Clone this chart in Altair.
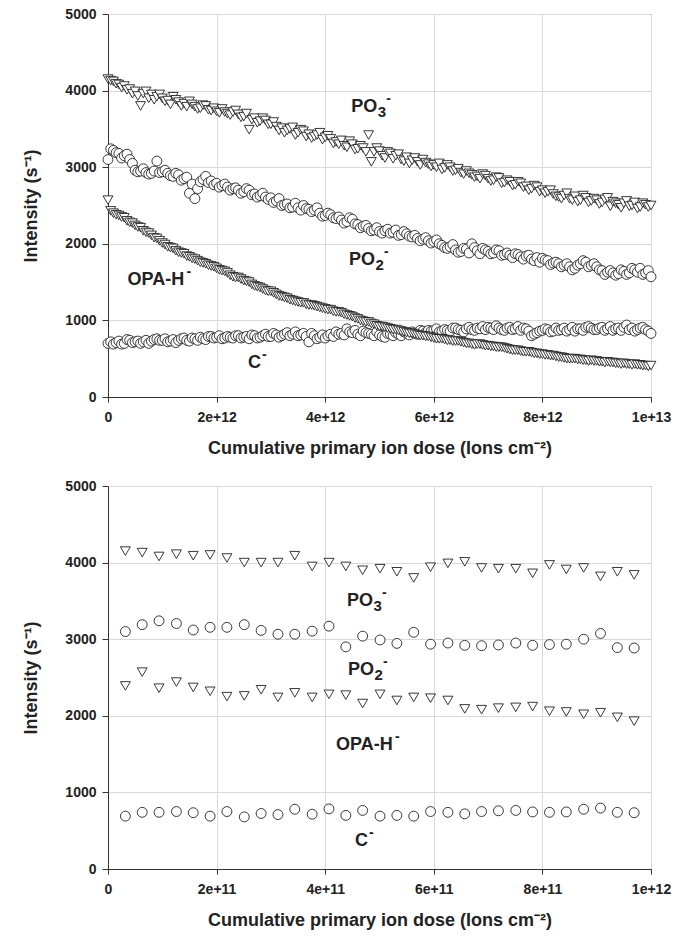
import altair as alt
import pandas as pd

# ---------------- top panel (dose in units of 1e11 ions/cm2) ----------------
dose_top_e11 = [
    0, 1, 2, 3, 4, 5, 6, 7, 8, 9, 10, 11, 12, 13, 14, 15, 16, 17, 18, 19,
    20, 21, 22, 23, 24, 25, 26, 27, 28, 29, 30, 31, 32, 33, 34, 35, 36, 37, 38, 39,
    40, 41, 42, 43, 44, 45, 46, 47, 48, 49, 50, 51, 52, 53, 54, 55, 56, 57, 58, 59,
    60, 61, 62, 63, 64, 65, 66, 67, 68, 69, 70, 71, 72, 73, 74, 75, 76, 77, 78, 79,
    80, 81, 82, 83, 84, 85, 86, 87, 88, 89, 90, 91, 92, 93, 94, 95, 96, 97, 98, 99, 100,
]
po3_top = [
    4150, 4120, 4080, 4060, 4020, 3990, 3800, 3990, 3950, 3920,
    3900, 3870, 3920, 3850, 3830, 3860, 3790, 3770, 3800, 3740,
    3730, 3760, 3700, 3720, 3690, 3660, 3490, 3640, 3600, 3610,
    3560, 3530, 3510, 3480, 3520, 3450, 3470, 3430, 3400, 3450,
    3390, 3370, 3330, 3350, 3260, 3300, 3240, 3250, 3420, 3200,
    3210, 3120, 3180, 3150, 3100, 3130, 3090, 3070, 3100, 3040,
    3030, 3050, 2990, 3000, 2960, 2930, 2950, 2900, 2880, 2910,
    2850, 2830, 2860, 2800, 2810, 2770, 2790, 2750, 2720, 2740,
    2700, 2680, 2650, 2610, 2630, 2590, 2620, 2570, 2600, 2560,
    2570, 2540, 2600, 2550, 2510, 2530, 2490, 2540, 2480, 2510, 2500,
]
po2_top = [
    3100, 3220, 3180, 3150, 3100, 2960, 2950, 2930, 2920, 3080,
    2940, 2920, 2880, 2900, 2850, 2660, 2590, 2810, 2880, 2820,
    2790, 2760, 2740, 2720, 2700, 2680, 2700, 2650, 2630, 2610,
    2600, 2560, 2500, 2520, 2480, 2470, 2500, 2450, 2440, 2400,
    2370, 2380, 2330, 2310, 2290, 2320, 2250, 2230, 2200, 2180,
    2160, 2170, 2140, 2180, 2120, 2130, 2090, 2070, 2060, 2040,
    2030, 2000, 1950, 1960, 1920, 1900, 1930, 2000, 1910, 1940,
    1900, 1880, 1910, 1860, 1850, 1870, 1830, 1840, 1800, 1820,
    1810, 1780, 1750, 1740, 1720, 1700, 1680, 1740, 1760, 1720,
    1700, 1650, 1630, 1620, 1610, 1640, 1620, 1660, 1680, 1620, 1570,
]
opa_top = [
    2570, 2400, 2370, 2340, 2280, 2240, 2210, 2150, 2110, 2070,
    2010, 1960, 1940, 1890, 1870, 1830, 1800, 1760, 1740, 1710,
    1680, 1650, 1620, 1570, 1560, 1520, 1500, 1450, 1430, 1390,
    1380, 1340, 1310, 1290, 1260, 1240, 1230, 1200, 1190, 1170,
    1150, 1140, 1110, 1100, 1070, 1050, 1020, 990, 980, 950,
    920, 910, 890, 880, 860, 840, 830, 810, 800, 790,
    770, 760, 750, 740, 730, 720, 700, 690, 690, 680,
    670, 660, 650, 640, 620, 610, 600, 590, 580, 570,
    560, 550, 540, 520, 510, 500, 500, 490, 480, 480,
    470, 460, 460, 450, 440, 440, 430, 430, 420, 410, 410,
]
c_top = [
    700, 690, 730, 700, 740, 720, 700, 740, 730, 760,
    740, 720, 750, 740, 770, 730, 760, 780, 750, 790,
    780, 760, 790, 770, 800, 780, 760, 800, 780, 820,
    790, 810, 800, 840, 820, 800, 830, 720, 800, 780,
    770, 820, 850, 830, 890, 840, 820, 860, 830, 800,
    810, 780, 820, 840, 800, 830, 850, 820, 860, 870,
    870, 850, 880, 860, 900, 870, 890, 880, 900, 920,
    910, 880, 900, 870, 910, 890, 870, 890, 800, 840,
    870, 880, 860, 870, 900, 880, 860, 890, 910, 900,
    880, 910, 890, 870, 900, 910, 880, 860, 900, 880, 830,
]

# in-between acquisitions of the top run
dose_top_b_e11 = [
    0.5, 1.5, 2.5, 3.5, 4.5, 5.5, 6.5, 7.5, 8.5, 9.5, 10.5, 11.5, 12.5, 13.5, 14.5,
    15.5, 16.5, 17.5, 18.5, 19.5, 20.5, 21.5, 22.5, 23.5, 24.5, 25.5, 26.5, 27.5,
    28.5, 29.5, 30.5, 31.5, 32.5, 33.5, 34.5, 35.5, 36.5, 37.5, 38.5, 39.5, 40.5,
    41.5, 42.5, 43.5, 44.5, 45.5, 46.5, 47.5, 48.5, 49.5, 50.5, 51.5, 52.5, 53.5,
    54.5, 55.5, 56.5, 57.5, 58.5, 59.5, 60.5, 61.5, 62.5, 63.5, 64.5, 65.5, 66.5,
    67.5, 68.5, 69.5, 70.5, 71.5, 72.5, 73.5, 74.5, 75.5, 76.5, 77.5, 78.5, 79.5,
    80.5, 81.5, 82.5, 83.5, 84.5, 85.5, 86.5, 87.5, 88.5, 89.5, 90.5, 91.5, 92.5,
    93.5, 94.5, 95.5, 96.5, 97.5, 98.5, 99.5,
]
po3_top_b = [
    4130, 4090, 4040, 4010, 3960, 3930, 3960, 3900, 3880, 3950,
    3860, 3820, 3880, 3800, 3790, 3820, 3760, 3810, 3750, 3770,
    3710, 3720, 3680, 3740, 3650, 3700, 3620, 3580, 3640, 3560,
    3590, 3480, 3450, 3500, 3420, 3490, 3400, 3380, 3420, 3360,
    3410, 3310, 3300, 3280, 3340, 3230, 3280, 3200, 3070, 3250,
    3150, 3200, 3110, 3170, 3080, 3050, 3120, 3030, 3060, 3010,
    3000, 2970, 3030, 2950, 2980, 2910, 2920, 2870, 2850, 2890,
    2820, 2870, 2790, 2830, 2760, 2810, 2740, 2700, 2760, 2680,
    2660, 2700, 2620, 2590, 2660, 2570, 2550, 2630, 2540, 2590,
    2520, 2580, 2490, 2530, 2470, 2560, 2500, 2460, 2530, 2480,
]
po2_top_b = [
    3240, 3190, 3120, 3170, 3050, 2940, 2980, 2910, 2950, 2930,
    2960, 2890, 2920, 2830, 2870, 2780, 2720, 2840, 2800, 2770,
    2740, 2780, 2700, 2730, 2660, 2720, 2640, 2610, 2660, 2580,
    2540, 2590, 2510, 2470, 2530, 2440, 2460, 2420, 2470, 2360,
    2400, 2340, 2350, 2270, 2340, 2260, 2210, 2240, 2170, 2210,
    2140, 2190, 2150, 2110, 2160, 2100, 2110, 2040, 2080, 2010,
    2050, 1980, 1940, 1990, 1890, 1940, 1880, 1950, 1870, 1920,
    1870, 1920, 1850, 1880, 1820, 1860, 1800, 1850, 1780, 1760,
    1790, 1730, 1760, 1700, 1740, 1660, 1720, 1780, 1700, 1740,
    1660, 1600, 1650, 1590, 1660, 1600, 1680, 1630, 1600, 1650,
]
opa_top_b = [
    2430, 2380, 2350, 2300, 2270, 2220, 2170, 2140, 2080, 2040,
    1990, 1950, 1910, 1880, 1840, 1810, 1780, 1750, 1720, 1700,
    1660, 1640, 1590, 1560, 1540, 1510, 1470, 1440, 1410, 1380,
    1360, 1320, 1300, 1270, 1250, 1230, 1210, 1200, 1180, 1160,
    1140, 1120, 1110, 1080, 1060, 1030, 1000, 980, 960, 930,
    920, 900, 880, 870, 850, 830, 820, 800, 790, 780,
    760, 760, 740, 730, 730, 710, 700, 680, 690, 670,
    660, 650, 650, 630, 610, 610, 590, 590, 570, 560,
    550, 540, 530, 520, 500, 500, 490, 480, 470, 470,
    460, 450, 450, 440, 430, 430, 420, 420, 410, 400,
]
c_top_b = [
    720, 710, 690, 750, 710, 730, 720, 700, 750, 740,
    760, 730, 710, 760, 740, 770, 740, 760, 790, 770,
    800, 770, 780, 800, 770, 790, 810, 770, 800, 790,
    830, 780, 820, 800, 850, 810, 790, 830, 760, 810,
    800, 790, 820, 810, 850, 870, 800, 840, 820, 850,
    790, 830, 800, 820, 850, 810, 830, 870, 840, 860,
    890, 860, 870, 900, 880, 850, 910, 870, 890, 880,
    900, 930, 880, 900, 880, 920, 900, 860, 820, 860,
    890, 850, 900, 880, 860, 910, 890, 870, 920, 880,
    900, 870, 920, 890, 870, 940, 900, 880, 910, 860,
]

# ---------------- bottom panel (dose in units of 1e11 ions/cm2) ----------------
dose_bot_e11 = [
    0.32, 0.63, 0.94, 1.26, 1.57, 1.88, 2.19, 2.51, 2.82, 3.13, 3.44,
    3.76, 4.07, 4.38, 4.69, 5.01, 5.32, 5.63, 5.94, 6.26, 6.57,
    6.88, 7.19, 7.51, 7.82, 8.13, 8.44, 8.76, 9.07, 9.38, 9.69,
]
po3_bot = [
    4150, 4130, 4080, 4110, 4090, 4100, 4060, 4000, 4000, 4000, 4090,
    3950, 4000, 3950, 3900, 3920, 3880, 3800, 3940, 3990, 4010,
    3930, 3920, 3920, 3860, 3970, 3910, 3930, 3820, 3880, 3840,
]
po2_bot = [
    3100, 3190, 3240, 3205, 3120, 3155, 3155, 3190, 3115, 3065, 3065,
    3105, 3170, 2900, 3040, 2990, 2945, 3090, 2935, 2950, 2920,
    2915, 2925, 2950, 2920, 2930, 2935, 3000, 3075, 2890, 2885,
]
opa_bot = [
    2390, 2570, 2360, 2440, 2370, 2320, 2250, 2260, 2340, 2240, 2300,
    2240, 2280, 2270, 2160, 2280, 2200, 2240, 2230, 2200, 2090,
    2080, 2100, 2110, 2120, 2060, 2050, 2020, 2040, 1980, 1930,
]
c_bot = [
    690, 740, 740, 750, 735, 690, 750, 680, 725, 710, 780,
    715, 785, 700, 765, 690, 700, 690, 750, 740, 720,
    750, 760, 765, 745, 740, 745, 780, 795, 740, 735,
]

# ---------------- annotations (left edge of label, centre height) ----------------
lab_base = ["PO", "PO", "OPA-H", "C"]
lab_sub = ["3", "2", "", ""]
lab_top_dose_e11 = [44.8, 44.4, 3.6, 25.8]
lab_top_val = [3790, 1790, 1525, 444]
lab_bot_dose_e11 = [4.4, 4.42, 4.2, 4.55]
lab_bot_val = [3494, 2594, 1617, 365]
# horizontal offset of the superscript minus for each label (px)
sup_dx = [35, 35, 59, 14]


def build(parts):
    rows = []
    for name, shape, dose, vals in parts:
        for d, v in zip(dose, vals):
            rows.append({"dose": d * 1e11, "val": v, "series": name, "shape": shape})
    df = pd.DataFrame(rows)
    return df.sort_values(["series", "dose"], kind="stable").reset_index(drop=True)


FONT = "Liberation Sans"
STROKE = "#222222"
TXT = "#222222"


def panel(df, lab_dose, lab_val, xmax, xticks):
    xs = alt.Scale(domain=[0, xmax], nice=False)
    ys = alt.Scale(domain=[0, 5000], nice=False)
    xenc = alt.X(
        "dose:Q", scale=xs,
        axis=alt.Axis(
            values=xticks,
            labelExpr="datum.value == 0 ? '0' : format(datum.value, '.0e')",
            title="Cumulative primary ion dose (Ions cm⁻²)",
        ),
    )
    yenc = alt.Y(
        "val:Q", scale=ys,
        axis=alt.Axis(values=[0, 1000, 2000, 3000, 4000, 5000], format="d",
                      title="Intensity (s⁻¹)"),
    )
    layers = []
    for shp, vshape in (("circle", "circle"), ("triangle", "triangle-down")):
        layers.append(
            alt.Chart(df[df["shape"] == shp]).mark_point(
                shape=vshape, filled=True, fill="white", stroke=STROKE,
                strokeWidth=0.9, size=98, opacity=1,
            ).encode(x=xenc, y=yenc, detail="series:N")
        )
    for i in range(len(lab_base)):
        d = pd.DataFrame({"dose": [lab_dose[i] * 1e11], "val": [lab_val[i]],
                          "base": [lab_base[i]], "sub": [lab_sub[i]], "sup": ["-"]})
        enc = dict(x=alt.X("dose:Q", scale=xs), y=alt.Y("val:Q", scale=ys))
        layers.append(alt.Chart(d).mark_text(
            font=FONT, fontSize=18, fontWeight="bold", color=TXT,
            align="left", baseline="middle",
        ).encode(text="base:N", **enc))
        if lab_sub[i]:
            layers.append(alt.Chart(d).mark_text(
                font=FONT, fontSize=15, fontWeight="bold", color=TXT,
                align="left", baseline="middle", dx=26.5, dy=5,
            ).encode(text="sub:N", **enc))
        layers.append(alt.Chart(d).mark_text(
            font=FONT, fontSize=14, fontWeight="bold", color=TXT,
            align="left", baseline="middle", dx=sup_dx[i], dy=-8,
        ).encode(text="sup:N", **enc))
    return alt.layer(*layers).properties(width=543, height=383)


df_top = build([
    ("PO3", "triangle", dose_top_e11, po3_top), ("PO3", "triangle", dose_top_b_e11, po3_top_b),
    ("PO2", "circle", dose_top_e11, po2_top), ("PO2", "circle", dose_top_b_e11, po2_top_b),
    ("OPA", "triangle", dose_top_e11, opa_top), ("OPA", "triangle", dose_top_b_e11, opa_top_b),
    ("C", "circle", dose_top_e11, c_top), ("C", "circle", dose_top_b_e11, c_top_b),
])
df_bot = build([
    ("PO3", "triangle", dose_bot_e11, po3_bot), ("PO2", "circle", dose_bot_e11, po2_bot),
    ("OPA", "triangle", dose_bot_e11, opa_bot), ("C", "circle", dose_bot_e11, c_bot),
])

top = panel(df_top, lab_top_dose_e11, lab_top_val, 1e13, [0, 2e12, 4e12, 6e12, 8e12, 1e13])
bot = panel(df_bot, lab_bot_dose_e11, lab_bot_val, 1e12, [0, 2e11, 4e11, 6e11, 8e11, 1e12])

chart = alt.vconcat(top, bot, spacing=20).properties(
    padding={"left": 22, "top": 6, "right": 5, "bottom": 5},
    background="white",
).configure_view(
    stroke="#333333", strokeWidth=1,
).configure_axis(
    labelFont=FONT, labelFontSize=14, labelFontWeight="bold", labelColor=TXT,
    titleFont=FONT, titleFontSize=18, titleFontWeight="bold", titleColor=TXT,
    domainColor="#333333", tickColor="#333333", tickSize=5,
    gridColor="#d9d9d9", gridWidth=1,
).configure_axisX(
    labelPadding=8, titlePadding=15, labelFlush=False,
).configure_axisY(
    labelPadding=6, titlePadding=24, tickSize=6,
)

chart.save("out.html", embed_options={"renderer": "svg", "actions": False})
